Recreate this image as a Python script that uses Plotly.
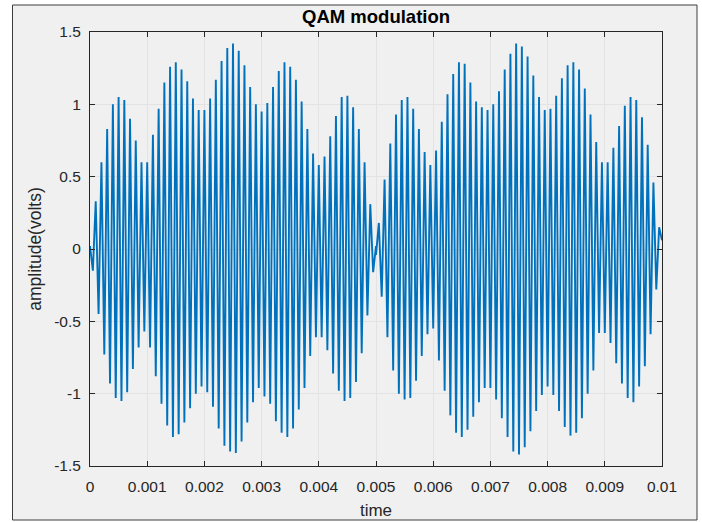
import plotly.graph_objects as go

# ---- data ----
# carrier period (100 carrier cycles across 0 .. 0.01 s)
carrier_period = 0.0001

# first half (0 .. 0.005 s): crest values (one per cycle) and trough values (half a cycle later)
crest_first = [0.02, 0.33, 0.60, 0.83, 1.00, 1.05, 1.03, 0.90, 0.75, 0.60,
               0.60, 0.79, 0.97, 1.15, 1.26, 1.29, 1.24, 1.16, 1.04, 0.96,
               0.96, 1.04, 1.17, 1.30, 1.39, 1.42, 1.37, 1.27, 1.12, 1.00,
               0.95, 1.01, 1.12, 1.23, 1.29, 1.26, 1.17, 1.02, 0.83, 0.66,
               0.58, 0.64, 0.78, 0.92, 1.05, 1.06, 0.98, 0.83, 0.60, 0.31,
               0.02]
trough_first = [-0.15, -0.45, -0.73, -0.93, -1.03, -1.05, -0.99, -0.83, -0.68, -0.57,
                -0.68, -0.88, -1.07, -1.22, -1.30, -1.28, -1.20, -1.10, -1.00, -0.95,
                -0.99, -1.09, -1.24, -1.36, -1.40, -1.41, -1.33, -1.20, -1.06, -0.96,
                -1.02, -1.07, -1.19, -1.27, -1.30, -1.24, -1.11, -0.96, -0.74, -0.61,
                -0.61, -0.70, -0.86, -0.98, -1.05, -1.03, -0.92, -0.72, -0.46, -0.16]

# second half (0.005 .. 0.01 s): the carrier phase flips, troughs come first
trough_second = [-0.04, -0.33, -0.61, -0.84, -1.00, -1.04, -1.03, -0.91, -0.74, -0.59,
                 -0.55, -0.77, -0.98, -1.15, -1.27, -1.30, -1.25, -1.16, -1.06, -0.96,
                 -0.96, -1.04, -1.17, -1.30, -1.40, -1.42, -1.37, -1.26, -1.12, -1.01,
                 -0.95, -1.01, -1.12, -1.23, -1.29, -1.27, -1.17, -1.00, -0.84, -0.58,
                 -0.58, -0.65, -0.79, -0.93, -1.03, -1.06, -0.95, -0.81, -0.59, -0.28]
crest_second = [0.18, 0.48, 0.73, 0.93, 1.03, 1.05, 0.97, 0.83, 0.67, 0.58,
                0.68, 0.88, 1.07, 1.21, 1.29, 1.28, 1.15, 1.02, 0.98, 0.96,
                1.00, 1.09, 1.24, 1.35, 1.42, 1.40, 1.33, 1.20, 1.05, 0.96,
                0.97, 1.06, 1.18, 1.27, 1.29, 1.24, 1.11, 0.93, 0.74, 0.60,
                0.60, 0.70, 0.85, 0.99, 1.05, 1.03, 0.91, 0.72, 0.46, 0.15]
end_value = 0.06

x_ticks = [0, 0.001, 0.002, 0.003, 0.004, 0.005, 0.006, 0.007, 0.008, 0.009, 0.01]
x_tick_labels = ["0", "0.001", "0.002", "0.003", "0.004", "0.005",
                 "0.006", "0.007", "0.008", "0.009", "0.01"]
y_ticks = [-1.5, -1, -0.5, 0, 0.5, 1, 1.5]
y_tick_labels = ["-1.5", "-1", "-0.5", "0", "0.5", "1", "1.5"]

# ---- assemble the sampled waveform ----
t, s = [], []
half = len(trough_first)
for k in range(half):
    t.append(k * carrier_period); s.append(crest_first[k])
    t.append((k + 0.5) * carrier_period); s.append(trough_first[k])
t.append(half * carrier_period); s.append(crest_first[half])
t0 = half * carrier_period
for k in range(len(crest_second)):
    t.append(t0 + k * carrier_period); s.append(trough_second[k])
    t.append(t0 + (k + 0.5) * carrier_period); s.append(crest_second[k])
t.append(2 * t0); s.append(end_value)

FONT = "Liberation Sans, Arial, sans-serif"
INK = "#262626"

fig = go.Figure()
fig.add_trace(go.Scatter(x=t, y=s, mode="lines",
                         line=dict(color="#0072BD", width=1.9),
                         hoverinfo="skip", showlegend=False))

axis_common = dict(showline=True, linecolor=INK, linewidth=1, mirror="ticks",
                   ticks="inside", ticklen=5, tickcolor=INK, tickwidth=1,
                   showgrid=True, gridcolor="#e3e3e3", gridwidth=1,
                   zeroline=False,
                   tickfont=dict(family=FONT, size=15.5, color=INK))

fig.update_xaxes(range=[0, 0.01], tickvals=x_ticks, ticktext=x_tick_labels,
                 title=dict(text="time", font=dict(family=FONT, size=17, color=INK),
                            standoff=10),
                 ticklabelstandoff=6,
                 **axis_common)
fig.update_yaxes(range=[-1.5, 1.5], tickvals=y_ticks, ticktext=y_tick_labels,
                 title=dict(text="amplitude(volts)", font=dict(family=FONT, size=17.5, color=INK),
                            standoff=8),
                 ticklabelstandoff=5,
                 **axis_common)

fig.update_layout(
    width=702, height=522,
    margin=dict(l=90, r=40, t=32, b=56, pad=0, autoexpand=False),
    paper_bgcolor="white", plot_bgcolor="white",
    title=dict(text="<b>QAM modulation</b>", x=0.5357, xanchor="center",
               y=1 - 17 / 522, yanchor="middle", yref="container",
               font=dict(family=FONT, size=18.5, color="black")),
    shapes=[dict(type="rect", xref="paper", yref="paper", layer="below",
                 x0=-77.5 / 572, x1=1 + 35 / 572, y0=-54 / 434, y1=1 + 27 / 434,
                 fillcolor="#f0f0f0", line=dict(color="#3c3c3c", width=1))],
)

fig.write_html("out.html", config={"displayModeBar": False, "staticPlot": True},
               post_script="document.body.style.margin='0';document.body.style.padding='0';")
